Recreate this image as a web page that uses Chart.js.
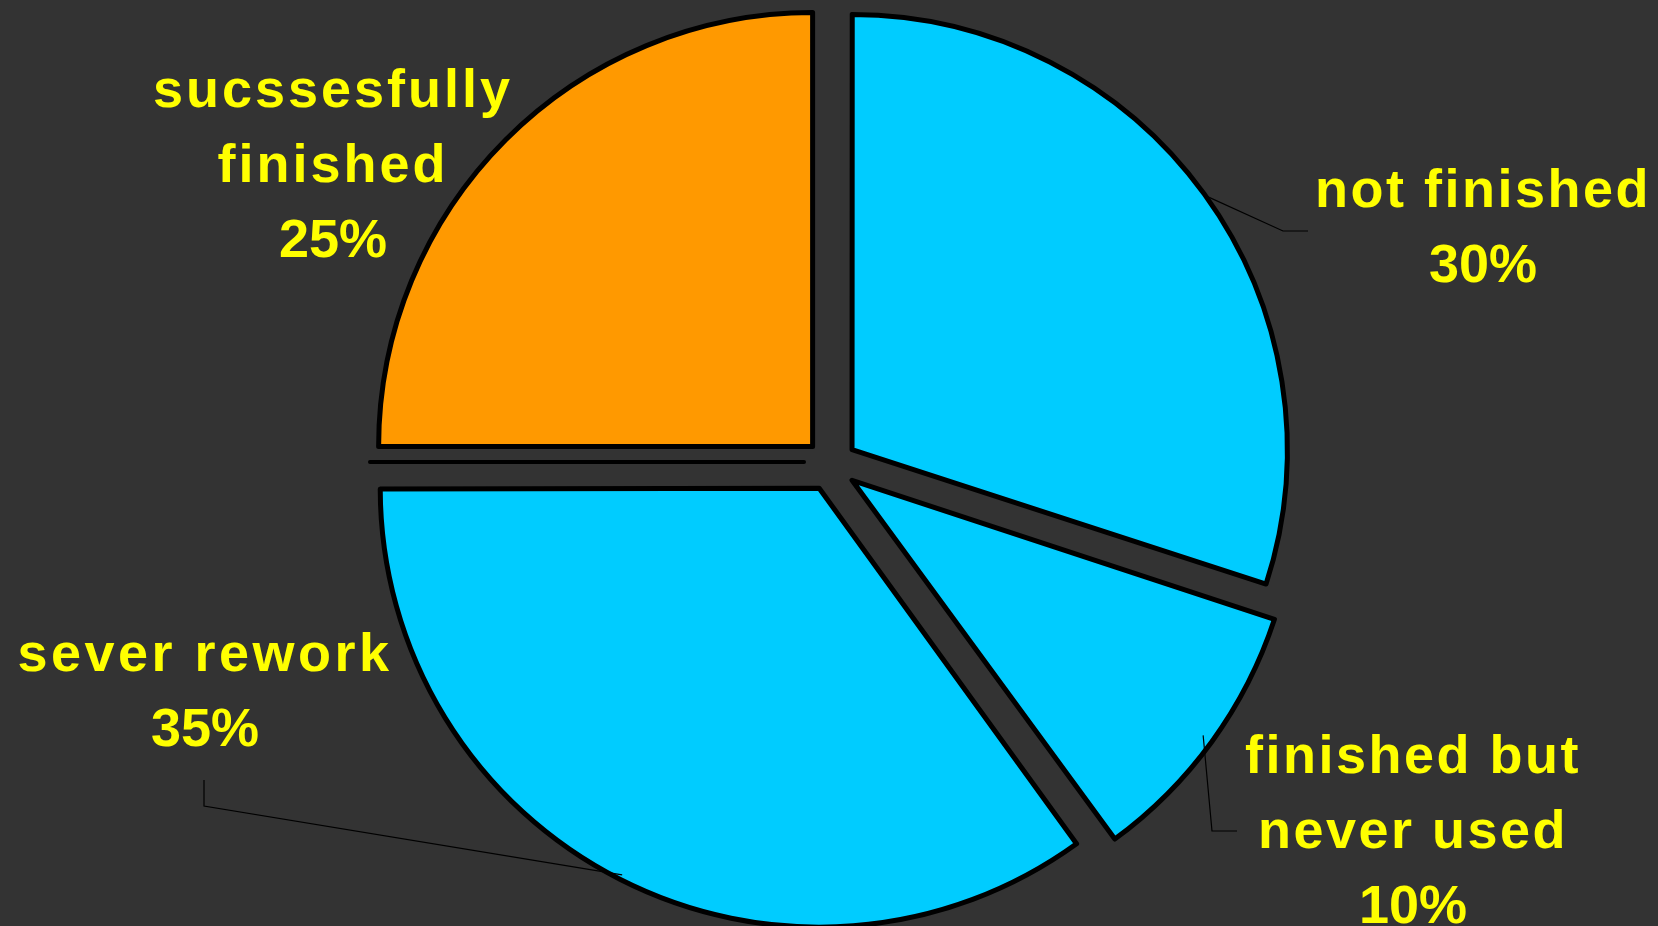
<!DOCTYPE html>
<html>
<head>
<meta charset="utf-8">
<script src="https://cdn.jsdelivr.net/npm/chart.js@4/dist/chart.umd.min.js"></script>
<style>
    html, body { margin: 0; padding: 0; background: #333333; }
    #wrap { width: 1658px; height: 926px; position: relative; }
</style>
</head>
<body>
<div id="wrap"><canvas id="projectPie"></canvas></div>
<script>
// Chart data
const categoryLines = [
    ['not finished'],
    ['finished but', 'never used'],
    ['sever rework'],
    ['sucssesfully', 'finished']
];
const shares = [30, 10, 35, 25];
const sliceColors = ['#00ccff', '#00ccff', '#00ccff', '#ff9900'];

// Label placement, relative to the pie centre (layout only)
const labelLayout = [
    { dx: 652, dy: -258, spacing: 2.5, leader: [[452, -234], [477, -234]] },
    { dx: 582, dy: 308, spacing: 2.5, leader: [[381, 366], [406, 366]] },
    { dx: -626, dy: 206, spacing: 3.5, leader: [[-627, 341], [-627, 315]] },
    { dx: -498, dy: -358, spacing: 3, leader: [] }
];
const lineGap = 75;

// Draws the yellow labels, leader lines and the stray divider
const pieLabels = {
    id: 'pieLabels',
    afterDatasetsDraw(chart) {
        const ctx = chart.ctx;
        const arcs = chart.getDatasetMeta(0).data;
        ctx.save();

        arcs.forEach((arc, i) => {
            const cx = arc.x, cy = arc.y;
            const layout = labelLayout[i];
            const mid = (arc.startAngle + arc.endAngle) / 2;
            // chart.js moves an arc by offset / 4
            const r = arc.outerRadius + arc.options.offset / 4;

            // leader line from the slice edge
            if (layout.leader.length) {
                ctx.beginPath();
                ctx.strokeStyle = '#000000';
                ctx.lineWidth = 1.2;
                ctx.moveTo(cx + Math.cos(mid) * r, cy + Math.sin(mid) * r);
                layout.leader.forEach(p => ctx.lineTo(cx + p[0], cy + p[1]));
                ctx.stroke();
            }

            // text lines
            const lines = categoryLines[i].concat([shares[i] + '%']);
            ctx.fillStyle = '#ffff00';
            ctx.textAlign = 'center';
            ctx.textBaseline = 'alphabetic';
            ctx.font = 'bold 54px "Liberation Sans", Arial, sans-serif';
            lines.forEach((line, j) => {
                const isPct = j === lines.length - 1;
                ctx.letterSpacing = isPct ? '0px' : layout.spacing + 'px';
                ctx.fillText(line, cx + layout.dx, cy + layout.dy + j * lineGap);
            });
        });

        // black divider left of centre
        const c = arcs[0];
        ctx.beginPath();
        ctx.strokeStyle = '#000000';
        ctx.lineWidth = 4;
        ctx.lineCap = 'round';
        ctx.moveTo(c.x - 461, c.y - 3);
        ctx.lineTo(c.x - 27, c.y - 3);
        ctx.stroke();

        ctx.restore();
    }
};

function initChart() {
    const ctx = document.getElementById('projectPie').getContext('2d');
    new Chart(ctx, {
        type: 'pie',
        data: {
            labels: categoryLines.map(l => l.join(' ')),
            datasets: [{
                data: shares,
                backgroundColor: sliceColors,
                borderColor: '#000000',
                borderWidth: 5,
                borderJoinStyle: 'round',
                offset: 104
            }]
        },
        options: {
            responsive: true,
            maintainAspectRatio: false,
            animation: false,
            radius: 434,
            layout: { padding: { left: 4, right: 0, top: 4, bottom: 0 } },
            plugins: {
                legend: { display: false },
                tooltip: { enabled: false }
            }
        },
        plugins: [pieLabels]
    });
}

document.addEventListener('DOMContentLoaded', initChart);
</script>
</body>
</html>
